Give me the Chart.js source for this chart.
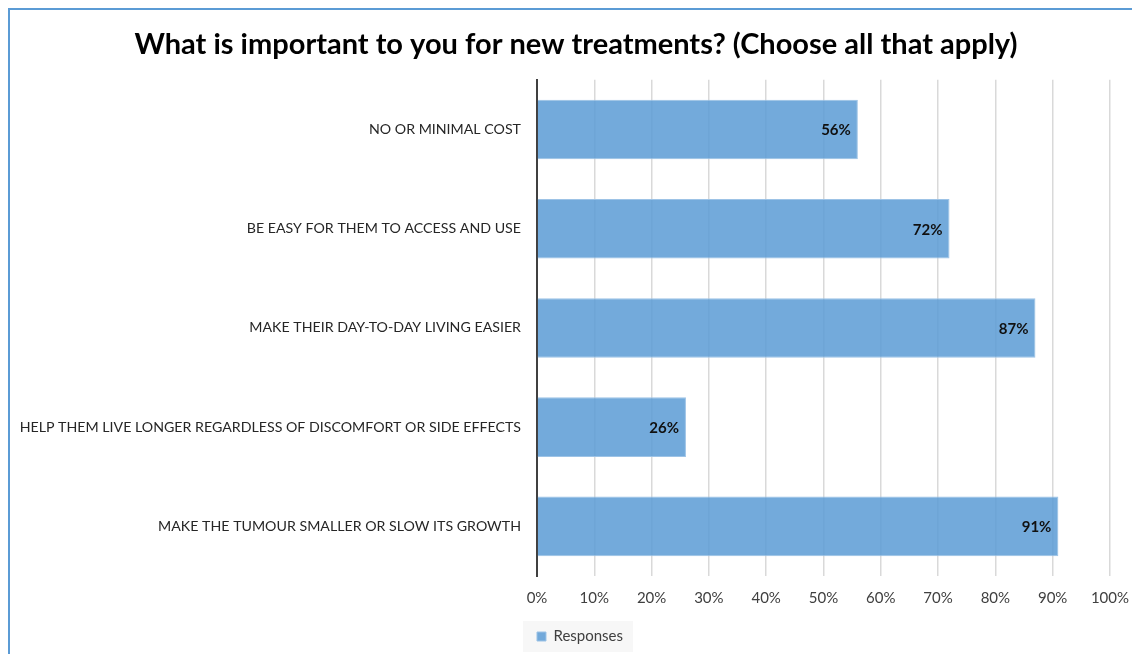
<!DOCTYPE html>
<html>
<head>
<meta charset="utf-8">
<script src="https://cdn.jsdelivr.net/npm/chart.js@4/dist/chart.umd.min.js"></script>
<style>
  html, body { margin: 0; padding: 0; background: #fff; overflow: hidden; }
  #frame {
    position: absolute; left: 8px; top: 8px; width: 1140px; height: 660px;
    border-top: 2px solid #5b9bd5; border-left: 2px solid #5b9bd5;
  }
  #wrap { position: absolute; left: 10px; top: 0; width: 1132px; height: 654px; }
</style>
</head>
<body>
<div id="frame"></div>
<div id="wrap"><canvas id="my-chart" width="1132" height="654"></canvas></div>
<script>
// Chart data
const categories = [
  "NO OR MINIMAL COST",
  "BE EASY FOR THEM TO ACCESS AND USE",
  "MAKE THEIR DAY-TO-DAY LIVING EASIER",
  "HELP THEM LIVE LONGER REGARDLESS OF DISCOMFORT OR SIDE EFFECTS",
  "MAKE THE TUMOUR SMALLER OR SLOW ITS GROWTH"
];
const responses = [56, 72, 87, 26, 91];
const seriesName = "Responses";
const titleText = "What is important to you for new treatments? (Choose all that apply)";

const fontFamily = "Lato, 'Liberation Sans', sans-serif";

// value labels drawn at the inside end of each bar
const barLabels = {
  id: "barLabels",
  afterDatasetsDraw(chart) {
    const ctx = chart.ctx;
    const meta = chart.getDatasetMeta(0);
    ctx.save();
    ctx.font = "bold 15px " + fontFamily;
    ctx.fillStyle = "#111";
    ctx.textAlign = "right";
    ctx.textBaseline = "middle";
    meta.data.forEach((bar, i) => {
      ctx.fillText(responses[i] + "%", bar.x - 7, bar.y + 1);
    });
    ctx.restore();
  }
};

// nudge title and legend right, grey box behind the legend
const legendBox = {
  id: "legendBox",
  afterLayout(chart) {
    chart.legend.left += 20;
    chart.legend.right += 20;
    chart.titleBlock.left += 16;
    chart.titleBlock.right += 16;
  },
  beforeDraw(chart) {
    const box = chart.legend.legendHitBoxes[0];
    if (!box) return;
    const ctx = chart.ctx;
    ctx.save();
    ctx.fillStyle = "#f7f7f7";
    ctx.fillRect(box.left - 14, box.top - 8, box.width + 24, box.height + 16);
    ctx.restore();
  }
};

const ctx = document.getElementById("my-chart").getContext("2d");

const myChart = new Chart(ctx, {
  type: "bar",
  data: {
    labels: categories,
    datasets: [{
      label: seriesName,
      data: responses,
      backgroundColor: "rgba(91, 155, 213, 0.85)",
      borderColor: "rgba(157, 195, 230, 1)",
      borderWidth: 1,
      categoryPercentage: 1,
      barPercentage: 0.6
    }]
  },
  options: {
    indexAxis: "y",
    responsive: false,
    animation: false,
    layout: { padding: { left: 0, right: 32, top: 0, bottom: 0 } },
    plugins: {
      title: {
        display: true,
        text: titleText,
        color: "#000",
        font: { family: fontFamily, size: 29, weight: "bold", lineHeight: 1.2 },
        padding: { top: 27, bottom: 18 }
      },
      legend: {
        display: true,
        position: "bottom",
        labels: {
          boxWidth: 9,
          boxHeight: 9,
          color: "#404040",
          font: { family: fontFamily, size: 15 },
          padding: 9
        }
      },
      tooltip: { enabled: false }
    },
    scales: {
      x: {
        min: 0,
        max: 100,
        ticks: {
          stepSize: 10,
          color: "#404040",
          font: { family: fontFamily, size: 15 },
          padding: 13,
          callback: v => v + "%"
        },
        grid: { color: "#d9d9d9", lineWidth: 1.5, drawTicks: false },
        border: { display: false }
      },
      y: {
        ticks: {
          color: "#262626",
          font: { family: fontFamily, size: 14.2 },
          padding: 16
        },
        grid: { display: false, drawTicks: false },
        border: { display: true, color: "#404040", width: 2 },
        afterFit(scale) { scale.width = 527; }
      }
    }
  },
  plugins: [legendBox, barLabels]
});
</script>
</body>
</html>
